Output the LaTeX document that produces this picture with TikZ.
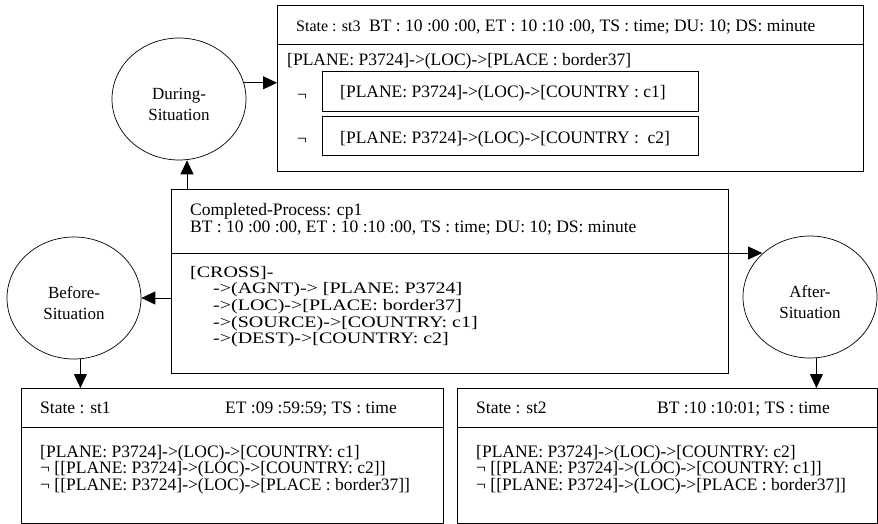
\documentclass[tikz,border=0pt]{standalone}
\usepackage{fontspec}
\setmainfont{Liberation Serif}
\newfontfamily\widefont{Liberation Serif}[FakeStretch=1.25]
\usetikzlibrary{arrows.meta,shapes.geometric}

\tikzset{
  box/.style={draw, line width=0.9pt, inner sep=0pt, anchor=north west},
  sit/.style={draw, ellipse, line width=0.7pt, minimum width=134pt, minimum height=122pt, inner sep=0pt},
  sittext/.style={align=center, inner sep=0pt, font=\fontsize{17}{21}\selectfont},
  txt/.style={anchor=base west, inner sep=0pt},
  relline/.style={txt, font=\widefont\fontsize{16}{16.5}\selectfont},
  link/.style={line width=0.9pt, -{Triangle[length=14pt,width=13pt]}},
}

\begin{document}
\begin{tikzpicture}[x=1pt, y=-1pt, font=\fontsize{17.5}{16.5}\selectfont]
\useasboundingbox[fill=white] (0,0) rectangle (878,524);

% ---------------- situations ----------------
\node[sit] (during) at (179,99) {};
\node[sit] (before) at (74,298) {};
\node[sit] (after) at (810,297) {};
\node[sittext] (duringtxt) at ([yshift=-5pt]during.center) {During-\\Situation};
\node[sittext] (beforetxt) at ([yshift=-5pt]before.center) {Before-\\Situation};
\node[sittext] (aftertxt) at ([yshift=-5pt]after.center) {After-\\Situation};

% ---------------- state st3 (during) ----------------
\node[box, minimum width=586pt, minimum height=166pt] (st3) at (277,5) {};
\draw[line width=0.9pt] (st3.west |- 0,44) -- (st3.east |- 0,44);
\node[txt, font=\fontsize{16}{16.5}\selectfont] (st3name) at (296,32) {State : st3};
\node[txt] (st3time) at (369,32) {BT : 10 :00 :00, ET : 10 :10 :00, TS : time; DU: 10; DS: minute};
\node[txt] (st3loc) at (287,66) {[PLANE: P3724]->(LOC)->[PLACE : border37]};
\node[box, minimum width=376pt, minimum height=40pt] (neg1) at (322,71) {};
\node[box, minimum width=376pt, minimum height=39pt] (neg2) at (322,116) {};
\node[txt] (not1) at (297,101) {¬};
\node[txt] (not2) at (297,145) {¬};
\node[txt] (neg1txt) at (340,98) {[PLANE: P3724]->(LOC)->[COUNTRY : c1]};
\node[txt] (neg2txt) at (340,144) {[PLANE: P3724]->(LOC)->[COUNTRY :~ c2]};

% ---------------- completed process ----------------
\node[box, minimum width=557pt, minimum height=184pt] (cp) at (171,189) {};
\coordinate (cpsep) at (171,253);
\node[txt] (cpname) at (190,215) {Completed-Process: cp1};
\node[txt] (cptime) at (190,232) {BT : 10 :00 :00, ET : 10 :10 :00, TS : time; DU: 10; DS: minute};
\node[relline] (cross) at (190,277) {[CROSS]-};
\node[relline] (agnt) at (213,293) {->(AGNT)-> [PLANE: P3724]};
\node[relline] (loc) at (213,310) {->(LOC)->[PLACE: border37]};
\node[relline] (source) at (213,327) {->(SOURCE)->[COUNTRY: c1]};
\node[relline] (dest) at (213,343) {->(DEST)->[COUNTRY: c2]};

% ---------------- state st1 (before) ----------------
\node[box, minimum width=422pt, minimum height=135pt] (st1) at (21,388) {};
\draw[line width=0.9pt] (st1.west |- 0,427) -- (st1.east |- 0,427);
\node[txt] (st1name) at (40,413) {State : st1};
\node[txt] (st1time) at (225,413) {ET :09 :59:59; TS : time};
\node[txt] (st1a) at (40,457) {[PLANE: P3724]->(LOC)->[COUNTRY: c1]};
\node[txt] (st1b) at (40,473) {¬ [[PLANE: P3724]->(LOC)->[COUNTRY: c2]]};
\node[txt] (st1c) at (40,490) {¬ [[PLANE: P3724]->(LOC)->[PLACE : border37]]};

% ---------------- state st2 (after) ----------------
\node[box, minimum width=420pt, minimum height=135pt] (st2) at (457,388) {};
\draw[line width=0.9pt] (st2.west |- 0,427) -- (st2.east |- 0,427);
\node[txt] (st2name) at (476,413) {State : st2};
\node[txt] (st2time) at (657,413) {BT :10 :10:01; TS : time};
\node[txt] (st2a) at (476,457) {[PLANE: P3724]->(LOC)->[COUNTRY: c2]};
\node[txt] (st2b) at (476,473) {¬ [[PLANE: P3724]->(LOC)->[COUNTRY: c1]]};
\node[txt] (st2c) at (476,490) {¬ [[PLANE: P3724]->(LOC)->[PLACE : border37]]};

% ---------------- arrows ----------------
\coordinate (upfoot) at (187,189);
\draw[link] (upfoot) -- (upfoot |- during.south);
\draw[link] (during.14) -- (during.14 -| st3.west);
\draw[link] (cp.west |- before.east) -- (before.east);
\draw[link] (cpsep) -- (cpsep -| after.138);
\draw[link] (before.-84) -- (before.-84 |- st1.north);
\draw[link] (after.-84) -- (after.-84 |- st2.north);

\end{tikzpicture}
\end{document}
